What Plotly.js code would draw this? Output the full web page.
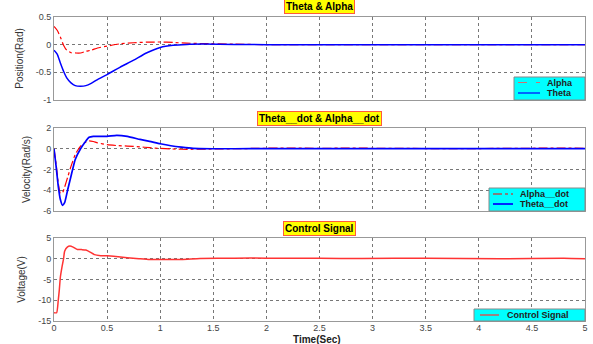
<!DOCTYPE html>
<html><head><meta charset="utf-8">
<script src="https://cdn.plot.ly/plotly-3.0.1.min.js"></script>
<style>html,body{margin:0;padding:0;background:#fff}#c{width:593px;height:344px}</style>
</head><body><div id="c"></div>
<script>
// ---- data ----
var tPos  = [0, 0.03, 0.06, 0.09, 0.12, 0.16, 0.2, 0.25, 0.3, 0.35, 0.41, 0.5, 0.62, 0.75, 0.87, 1.0, 1.12, 1.25, 1.4, 1.7, 2.0, 3.0, 4.0, 5.0];
var alpha = [0.33, 0.26, 0.14, -0.01, -0.10, -0.145, -0.15, -0.15, -0.12, -0.10, -0.06, -0.025, 0.015, 0.035, 0.045, 0.048, 0.04, 0.028, 0.02, 0.01, 0.0, 0, 0, 0];
var theta = [-0.10, -0.17, -0.33, -0.48, -0.60, -0.69, -0.74, -0.75, -0.74, -0.70, -0.63, -0.54, -0.41, -0.28, -0.15, -0.05, -0.01, 0.005, 0.01, 0.005, 0, 0, 0, 0];

var tVel     = [0, 0.02, 0.04, 0.06, 0.08, 0.1, 0.13, 0.16, 0.2, 0.25, 0.29, 0.33, 0.37, 0.41, 0.5, 0.59, 0.69, 0.81, 0.9, 1.0, 1.1, 1.2, 1.31, 1.5, 1.7, 2.0, 2.5, 3.0, 3.5, 4.0, 4.5, 5.0];
var alphaDot = [0, -1.5, -3.3, -4.3, -4.25, -3.7, -2.7, -1.7, -0.55, 0.26, 0.6, 0.76, 0.7, 0.57, 0.39, 0.31, 0.26, 0.18, 0.11, 0.03, -0.02, -0.05, -0.05, -0.02, 0, 0.05, 0.05, 0.05, 0.02, 0.02, 0.05, 0.05];
var thetaDot = [0, -1.7, -3.6, -4.9, -5.45, -5.2, -3.9, -2.65, -1.03, 0, 0.6, 1.1, 1.2, 1.19, 1.19, 1.29, 1.19, 0.9, 0.71, 0.48, 0.29, 0.15, 0.03, 0, 0, 0.02, 0.02, 0.02, 0.02, 0.02, 0.02, 0.02];

var tCtl    = [0, 0.025, 0.04, 0.05, 0.06, 0.075, 0.09, 0.1, 0.125, 0.15, 0.18, 0.2, 0.22, 0.26, 0.3, 0.34, 0.38, 0.44, 0.5, 0.56, 0.69, 0.8, 0.9, 1.0, 1.2, 1.375, 1.7, 2.0, 2.5, 2.9, 3.5, 4.2, 4.8, 5.0];
var control = [-13, -13, -10, -7.5, -4.4, -2, 0, 1.8, 2.8, 3.05, 2.8, 2.5, 2.25, 2.2, 2.1, 1.6, 1.0, 0.75, 0.7, 0.6, 0.25, 0, -0.2, -0.2, -0.2, 0.05, 0.15, 0.15, 0.1, 0.05, 0.15, 0.0, 0.15, 0.0];

var xTicks = [0, 0.5, 1, 1.5, 2, 2.5, 3, 3.5, 4, 4.5, 5];
var xTickText = ['0', '0.5', '1', '1.5', '2', '2.5', '3', '3.5', '4', '4.5', '5'];
var y1Ticks = [0.5, 0, -0.5, -1], y1Text = ['0.5', '0', '-0.5', '-1'];
var y2Ticks = [2, 0, -2, -4, -6], y2Text = ['2', '0', '-2', '-4', '-6'];
var y3Ticks = [5, 0, -5, -10, -15], y3Text = ['5', '0', '-5', '-10', '-15'];

var panelTitles = ['Theta &amp; Alpha', 'Theta__dot &amp; Alpha__dot', 'Control Signal'];
var yTitles = ['Position(Rad)', 'Velocity(Rad/s)', 'Voltage(V)'];
var xTitle = 'Time(Sec)';

// ---- layout helpers (pixel -> paper) ----
var L = 54, R = 585, T = 17, B = 321;
function px(x) { return (x - L) / (R - L); }
function py(y) { return (B - y) / (B - T); }

var RED = '#ff0000', BLUE = '#0000ff', CRED = '#ff3333';
var traces = [
  {x: tPos, y: alpha, xaxis: 'x', yaxis: 'y', name: 'Alpha', mode: 'lines', line: {color: RED, width: 1.2, dash: 'dashdot', shape: 'spline', smoothing: 0.6}},
  {x: tPos, y: theta, xaxis: 'x', yaxis: 'y', name: 'Theta', mode: 'lines', line: {color: BLUE, width: 1.5, shape: 'spline', smoothing: 0.6}},
  {x: tVel, y: alphaDot, xaxis: 'x2', yaxis: 'y2', name: 'Alpha__dot', mode: 'lines', line: {color: RED, width: 1.2, dash: 'dashdot', shape: 'spline', smoothing: 0.5}},
  {x: tVel, y: thetaDot, xaxis: 'x2', yaxis: 'y2', name: 'Theta__dot', mode: 'lines', line: {color: BLUE, width: 1.7, shape: 'spline', smoothing: 0.5}},
  {x: tCtl, y: control, xaxis: 'x3', yaxis: 'y3', name: 'Control Signal', mode: 'lines', line: {color: CRED, width: 1.5, shape: 'spline', smoothing: 0.5}}
];

var FONT = 'Liberation Sans, Arial, sans-serif';
function xa(anchor, labels) {
  return {anchor: anchor, domain: [0, 1], range: [0, 5], tickvals: xTicks, ticktext: xTickText,
    showticklabels: labels, ticks: '', ticklabelstandoff: -2, showgrid: true, gridcolor: '#777', griddash: 'dot', gridwidth: 1,
    zeroline: false, showline: true, linecolor: '#999', linewidth: 1, mirror: true,
    tickfont: {size: 9, color: '#444', family: FONT}};
}
function ya(anchor, dom, rng, tv, tt, title) {
  return {anchor: anchor, domain: dom, range: rng, tickvals: tv, ticktext: tt, ticks: '',
    showgrid: true, gridcolor: '#777', griddash: 'dot', gridwidth: 1, zeroline: false,
    showline: true, linecolor: '#999', linewidth: 1, mirror: true,
    tickfont: {size: 9, color: '#444', family: FONT},
    title: {text: title, font: {size: 10, color: '#333', family: FONT}, standoff: 10}};
}

var annotations = [], shapes = [];
var titleY = [7, 118, 228];
for (var i = 0; i < 3; i++) {
  annotations.push({xref: 'paper', yref: 'paper', x: 0.5, y: py(titleY[i]), xanchor: 'center', yanchor: 'middle',
    text: '<b>' + panelTitles[i] + '</b>', showarrow: false, bgcolor: '#ffff00', bordercolor: '#ff5a3c',
    borderwidth: 1, borderpad: 1, font: {size: 10, color: '#000', family: FONT}});
}
// x-axis title of the bottom panel, placed just below its tick labels
annotations.push({xref: 'paper', yref: 'paper', x: px(317), y: py(339.5), xanchor: 'center', yanchor: 'middle',
  text: '<b>' + xTitle + '</b>', showarrow: false, borderpad: 0, font: {size: 10, color: '#222', family: FONT}});

// custom compact legends
function legend(box, items) {
  shapes.push({type: 'rect', xref: 'paper', yref: 'paper', x0: px(box[0]), x1: px(box[1]), y0: py(box[3]), y1: py(box[2]),
    fillcolor: '#00ffff', line: {color: '#888', width: 1}, layer: 'above'});
  items.forEach(function (it) {
    shapes.push({type: 'line', xref: 'paper', yref: 'paper', x0: px(it.l0), x1: px(it.l1), y0: py(it.y), y1: py(it.y),
      line: {color: it.color, width: it.w, dash: it.dash}, layer: 'above'});
    annotations.push({xref: 'paper', yref: 'paper', x: px(it.tx), y: py(it.y), xanchor: 'left', yanchor: 'middle',
      text: '<b>' + it.text + '</b>', showarrow: false, borderpad: 0, font: {size: 9, color: '#222', family: FONT}});
  });
}
legend([514, 585, 77, 100], [
  {l0: 518, l1: 540, y: 82.5, color: '#d07070', w: 1.2, dash: 'dash', tx: 546, text: traces[0].name},
  {l0: 518, l1: 540, y: 93, color: BLUE, w: 1.2, dash: 'solid', tx: 546, text: traces[1].name}
]);
legend([489, 585, 188, 211], [
  {l0: 493, l1: 513, y: 194, color: RED, w: 1.2, dash: 'dashdot', tx: 519, text: traces[2].name},
  {l0: 493, l1: 513, y: 204, color: BLUE, w: 1.7, dash: 'solid', tx: 519, text: traces[3].name}
]);
legend([474, 585, 309, 321], [
  {l0: 480, l1: 499, y: 315, color: CRED, w: 1.2, dash: 'solid', tx: 506, text: traces[4].name}
]);

var layout = {
  width: 593, height: 344, showlegend: false,
  margin: {l: L, r: 593 - R, t: T, b: 344 - B, pad: 0},
  paper_bgcolor: '#fff', plot_bgcolor: '#fff',
  font: {family: FONT},
  xaxis: xa('y', false), xaxis2: xa('y2', false), xaxis3: xa('y3', true),
  yaxis: ya('x', [py(100), 1], [-1, 0.5], y1Ticks, y1Text, yTitles[0]),
  yaxis2: ya('x2', [py(211), py(128)], [-6, 2], y2Ticks, y2Text, yTitles[1]),
  yaxis3: ya('x3', [0, py(238)], [-15, 5], y3Ticks, y3Text, yTitles[2]),
  annotations: annotations, shapes: shapes
};
Plotly.newPlot('c', traces, layout, {staticPlot: true, displayModeBar: false});
</script></body></html>
